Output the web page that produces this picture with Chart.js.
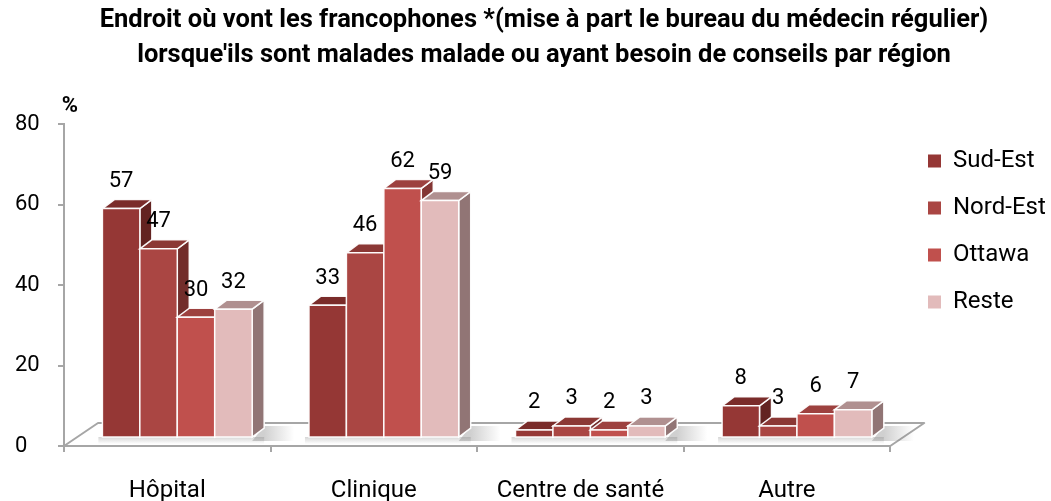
<!DOCTYPE html>
<html><head><meta charset="utf-8">
<script src="https://cdn.jsdelivr.net/npm/chart.js@4.4.1/dist/chart.umd.min.js"></script>
<style>html,body{margin:0;padding:0;background:#fff;overflow:hidden;}canvas{display:block;}</style>
</head><body>
<canvas id="c" width="1051" height="501"></canvas>
<script>
const categories = ['Hôpital', 'Clinique', 'Centre de santé', 'Autre'];
const seriesNames = ['Sud-Est', 'Nord-Est', 'Ottawa', 'Reste'];
const sudEst  = [57, 33, 2, 8];
const nordEst = [47, 46, 3, 3];
const ottawa  = [30, 62, 2, 6];
const reste   = [32, 59, 3, 7];
const yTickValues = [0, 20, 40, 60, 80];
const titleLines = [
  "Endroit où vont les francophones *(mise à part le bureau du médecin régulier)",
  "lorsque'ils sont malades malade ou ayant besoin de conseils par région"
];
const unitLabel = '%';

const frontColors = ['#953735', '#AA4643', '#C0504D', '#E2BBBB'];
const topColors   = ['#7A2C2A', '#8B3835', '#9D413F', '#B09090'];
const sideColors  = ['#632321', '#722D2B', '#843634', '#917575'];
const seriesValues = [sudEst, nordEst, ottawa, reste];

const AXIS = '#A6A6A6';
const FONT = 'Roboto';

const bar3d = {
  id: 'bar3d',
  afterLayout(chart) {
    const lg = chart.legend;
    if (lg) {
      const sx = 905 - lg.left; lg.left += sx; lg.right += sx;
      const sy = 126 - lg.top; lg.top += sy; lg.bottom += sy;
    }
    const t = chart.titleBlock;
    if (t) { t.left = 37; t.right = 1051; t.width = t.right - t.left; }
  },
  beforeDatasetsDraw(chart) {
    const ctx = chart.ctx;
    const {left, right, bottom} = chart.chartArea;
    const FX = 34, FY = 23;      // floor depth
    const SX = 10, SY = -8;      // bar placement in depth
    const BX = 12, BY = 9;       // bar depth
    ctx.save();
    // floor
    ctx.beginPath();
    ctx.moveTo(left, bottom); ctx.lineTo(right, bottom);
    ctx.lineTo(right + FX, bottom - FY); ctx.lineTo(left + FX, bottom - FY);
    ctx.closePath();
    ctx.fillStyle = '#ffffff'; ctx.fill();
    ctx.strokeStyle = AXIS; ctx.lineWidth = 2; ctx.lineJoin = 'round'; ctx.stroke();
    // soft shadow on floor under bar groups
    const metas = chart.data.datasets.map((d, i) => chart.getDatasetMeta(i));
    const nCat = chart.data.labels.length;
    for (let c = 0; c < nCat; c++) {
      const first = metas[0].data[c], last = metas[metas.length - 1].data[c];
      const gx0 = first.x - first.width / 2 + SX, gx1 = last.x + last.width / 2 + SX + BX;
      const yb = first.base + SY;
      const g = ctx.createLinearGradient(gx1, 0, gx1 + 30, 0);
      g.addColorStop(0, 'rgba(120,120,120,0.35)'); g.addColorStop(1, 'rgba(120,120,120,0)');
      ctx.fillStyle = g;
      ctx.beginPath();
      ctx.moveTo(gx1 - BX, yb + 4); ctx.lineTo(gx1 + 30, yb + 4); ctx.lineTo(gx1 + 30, yb - BY - 2); ctx.lineTo(gx1, yb - BY - 2);
      ctx.closePath(); ctx.fill();
      const g2 = ctx.createLinearGradient(0, yb, 0, yb + 7);
      g2.addColorStop(0, 'rgba(120,120,120,0.3)'); g2.addColorStop(1, 'rgba(120,120,120,0)');
      ctx.fillStyle = g2;
      ctx.fillRect(gx0 - 4, yb, gx1 - gx0 + 4, 7);
    }
    // bars, left to right
    ctx.lineWidth = 1.5; ctx.strokeStyle = 'rgba(255,255,255,0.95)'; ctx.lineJoin = 'miter';
    for (let c = 0; c < nCat; c++) {
      for (let d = 0; d < metas.length; d++) {
        const el = metas[d].data[c];
        const x0 = el.x - el.width / 2 + SX, x1 = el.x + el.width / 2 + SX;
        const yT = el.y + SY, yB = el.base + SY;
        ctx.beginPath();
        ctx.moveTo(x1, yB); ctx.lineTo(x1, yT); ctx.lineTo(x1 + BX, yT - BY); ctx.lineTo(x1 + BX, yB - BY); ctx.closePath();
        ctx.fillStyle = sideColors[d]; ctx.fill(); ctx.stroke();
        ctx.beginPath();
        ctx.moveTo(x0, yT); ctx.lineTo(x1, yT); ctx.lineTo(x1 + BX, yT - BY); ctx.lineTo(x0 + BX, yT - BY); ctx.closePath();
        ctx.fillStyle = topColors[d]; ctx.fill(); ctx.stroke();
        ctx.beginPath(); ctx.rect(x0, yT, x1 - x0, yB - yT);
        ctx.fillStyle = frontColors[d]; ctx.fill(); ctx.stroke();
      }
    }
    // value labels
    ctx.fillStyle = '#000'; ctx.font = '22px ' + FONT; ctx.textAlign = 'center'; ctx.textBaseline = 'middle';
    for (let d = 0; d < metas.length; d++) {
      metas[d].data.forEach((el, i) => {
        const v = chart.data.datasets[d].data[i];
        ctx.fillText(String(v), el.x + SX, el.y + SY - 27);
      });
    }
    // unit label
    ctx.font = 'bold 22px ' + FONT; ctx.textAlign = 'center';
    ctx.fillText(unitLabel, left + 6, chart.chartArea.top - 18);
    ctx.restore();
    return false;
  }
};

new Chart(document.getElementById('c'), {
  type: 'bar',
  data: {
    labels: categories,
    datasets: seriesNames.map((n, i) => ({
      label: n, data: seriesValues[i], backgroundColor: frontColors[i], borderWidth: 0,
      categoryPercentage: 0.725, barPercentage: 1.0
    }))
  },
  options: {
    responsive: false, animation: false, devicePixelRatio: 1,
    layout: { padding: { left: 15, right: 10, top: 0, bottom: 0 } },
    plugins: {
      title: { display: true, text: titleLines, color: '#000',
        font: { family: FONT, size: 25.5, weight: 'bold', lineHeight: 35 / 25.5 },
        padding: { top: 3, bottom: 51 } },
      legend: { display: true, position: 'right', align: 'start',
        labels: { color: '#000', font: { family: FONT, size: 24 }, boxWidth: 13, boxHeight: 13, padding: 23 } },
      tooltip: { enabled: false }
    },
    scales: {
      x: {
        grid: { display: true, drawOnChartArea: false, offset: true, tickLength: 6, color: AXIS, lineWidth: 2 },
        border: { display: true, color: AXIS, width: 2 },
        ticks: { color: '#000', font: { family: FONT, size: 24 }, padding: 25, maxRotation: 0 },
        afterFit(s) { s.height = 55; }
      },
      y: {
        min: 0, max: 80,
        afterBuildTicks(s) { s.ticks = yTickValues.map(v => ({ value: v })); },
        grid: { display: true, drawOnChartArea: false, tickLength: 6, color: AXIS, lineWidth: 2 },
        border: { display: true, color: AXIS, width: 2 },
        ticks: { color: '#000', font: { family: FONT, size: 22 }, crossAlign: 'far', padding: 8 },
        afterFit(s) { s.width = 49; }
      }
    }
  },
  plugins: [bar3d]
});
</script>
</body></html>
